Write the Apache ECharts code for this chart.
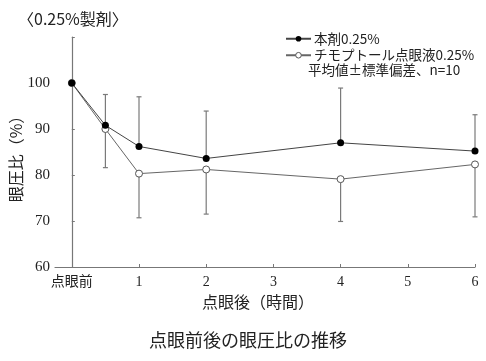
<!DOCTYPE html>
<html>
<head>
<meta charset="utf-8">
<script src="https://cdn.jsdelivr.net/npm/echarts@6/dist/echarts.min.js"></script>
<style>html,body{margin:0;padding:0;background:#fff;}#c{width:486px;height:361px;}</style>
</head>
<body>
<div id="c"></div>
<script>
const times = [0, 0.5, 1, 2, 4, 6];
const drugMean = [100, 90.8, 86.2, 83.6, 87.0, 85.2];
const drugSD = [0, 6.7, 10.8, 10.3, 11.9, 7.9];
const timololMean = [100, 90.0, 80.3, 81.2, 79.1, 82.3];
const timololSD = [0, 8.4, 9.6, 9.7, 9.2, 11.4];
const xTickValues = [1, 2, 3, 4, 5, 6];
const xLabelValues = [0, 1, 2, 3, 4, 5, 6];
const xLabelTexts = ['点眼前', '1', '2', '3', '4', '5', '6'];
const yLabelValues = [60, 70, 80, 90, 100];

const drugName = '本剤0.25%';
const timololName = 'チモプトール点眼液0.25%';

const JP = '"Noto Sans CJK JP", sans-serif';
const SERIF = '"Liberation Serif", "Noto Sans CJK JP", serif';

const drugPts = times.map((t, i) => [t, drugMean[i]]);
const timPts = times.map((t, i) => [t, timololMean[i]]);
// error bars: drug upward, timolol downward
const drugErr = times.map((t, i) => [t, drugMean[i], drugMean[i] + drugSD[i]]).filter((d, i) => drugSD[i] > 0);
const timErr = times.map((t, i) => [t, timololMean[i], timololMean[i] - timololSD[i]]).filter((d, i) => timololSD[i] > 0);

function errRender(params, api) {
  const p0 = api.coord([api.value(0), api.value(1)]);
  const p1 = api.coord([api.value(0), api.value(2)]);
  const hw = 2.5;
  const st = { stroke: '#7a7a7a', lineWidth: 1.2 };
  return {
    type: 'group',
    children: [
      { type: 'line', shape: { x1: p0[0], y1: p0[1], x2: p1[0], y2: p1[1] }, style: st },
      { type: 'line', shape: { x1: p1[0] - hw, y1: p1[1], x2: p1[0] + hw, y2: p1[1] }, style: st }
    ]
  };
}

const chart = echarts.init(document.getElementById('c'), null, { renderer: 'canvas' });
chart.setOption({
  animation: false,
  backgroundColor: '#fff',
  textStyle: { fontFamily: JP, color: '#222' },
  title: [
    { text: '〈0.25%製剤〉', left: 13, top: 6, textStyle: { fontFamily: JP, fontSize: 16, fontWeight: 'normal', color: '#222' } },
    { text: '点眼前後の眼圧比の推移', left: 243, top: 326, textAlign: 'center', textStyle: { fontFamily: JP, fontSize: 18, fontWeight: 'normal', color: '#222' } }
  ],
  legend: {
    orient: 'vertical',
    left: 280,
    top: 27,
    itemWidth: 25,
    itemHeight: 7,
    itemGap: 3,
    textStyle: { fontFamily: JP, fontSize: 13.5, color: '#222', padding: [0, 0, 0, -2] },
    data: [
      { name: drugName },
      { name: timololName, itemStyle: { color: '#fff', borderColor: '#555', borderWidth: 1 } }
    ]
  },
  grid: { left: 55, right: 11, top: 37, bottom: 94, containLabel: false },
  xAxis: {
    type: 'value',
    min: -0.25,
    max: 6,
    axisLine: { show: true, lineStyle: { color: '#777', width: 1.2 } },
    axisTick: { show: true, inside: true, length: 3, lineStyle: { color: '#777' }, customValues: xTickValues },
    axisLabel: {
      customValues: xLabelValues,
      fontFamily: SERIF, fontSize: 14, color: '#222', margin: 8,
      formatter: v => xLabelTexts[xLabelValues.indexOf(v)]
    },
    splitLine: { show: false }
  },
  yAxis: {
    type: 'value',
    min: 60,
    max: 110,
    interval: 10,
    axisLine: { show: true, lineStyle: { color: '#777', width: 1.2 } },
    axisTick: { show: true, inside: true, length: 3, lineStyle: { color: '#777' } },
    axisLabel: {
      fontFamily: SERIF, fontSize: 15, color: '#222', margin: 5,
      formatter: v => (yLabelValues.indexOf(v) >= 0 ? String(v) : '')
    },
    splitLine: { show: false }
  },
  graphic: [
    { type: 'text', left: 308, top: 63, style: { text: '平均値±標準偏差、n=10', font: '13.5px ' + JP, fill: '#222' } },
    { type: 'text', x: 16, y: 155, rotation: Math.PI / 2, style: { text: '眼圧比（%）', font: '16px ' + JP, fill: '#222', textAlign: 'center', textVerticalAlign: 'middle' } },
    { type: 'text', x: 258, y: 302, style: { text: '点眼後（時間）', font: '16px ' + JP, fill: '#222', textAlign: 'center', textVerticalAlign: 'middle' } }
  ],
  series: [
    { type: 'custom', name: 'drugErr', renderItem: errRender, data: drugErr, z: 1, silent: true, encode: { x: 0, y: [1, 2] } },
    { type: 'custom', name: 'timErr', renderItem: errRender, data: timErr, z: 1, silent: true, encode: { x: 0, y: [1, 2] } },
    {
      type: 'line', name: timololName, data: timPts, z: 3,
      symbol: 'circle', symbolSize: 7,
      lineStyle: { color: '#666', width: 1 },
      itemStyle: { color: '#fff', borderColor: '#555', borderWidth: 1 }
    },
    {
      type: 'line', name: drugName, data: drugPts, z: 4,
      symbol: 'circle', symbolSize: 7,
      lineStyle: { color: '#444', width: 1 },
      itemStyle: { color: '#000', borderColor: '#000', borderWidth: 0 }
    }
  ]
});
</script>
</body>
</html>
